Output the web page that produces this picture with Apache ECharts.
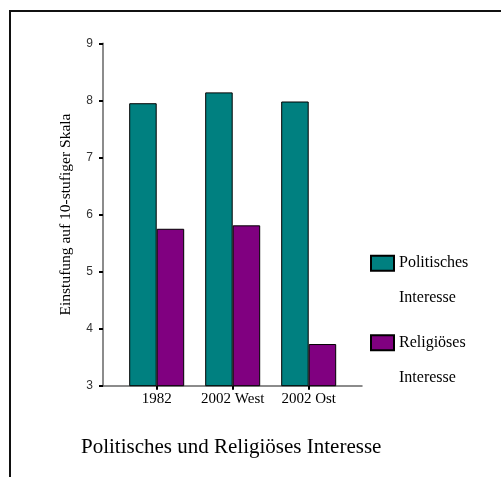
<!DOCTYPE html>
<html>
<head>
<meta charset="utf-8">
<script src="https://cdn.jsdelivr.net/npm/echarts@6/dist/echarts.min.js"></script>
<style>html,body{margin:0;padding:0;background:#fff;}#c{width:501px;height:477px;}</style>
</head>
<body>
<div id="c"></div>
<script>
var categories = ['1982', '2002 West', '2002 Ost'];
var politisches = [7.95, 8.14, 7.98];
var religioeses = [5.75, 5.81, 3.73];
var seriesNames = ['Politisches\nInteresse', 'Religiöses\nInteresse'];
var yTicks = [3, 4, 5, 6, 7, 8, 9];
var titleText = 'Politisches und Religiöses Interesse';
var yName = 'Einstufung auf 10-stufiger Skala';

var serif = '"Liberation Serif", "DejaVu Serif", serif';
var sans = '"Liberation Sans", Arial, sans-serif';
var chart = echarts.init(document.getElementById('c'), null, {renderer: 'canvas'});
var gTop = 43.3, gBottom = 91.3;
chart.setOption({
  backgroundColor: '#fff',
  animation: false,
  title: {
    text: titleText, left: 76, top: 432,
    textStyle: {fontFamily: serif, fontSize: 21, fontWeight: 'normal', color: '#000'}
  },
  legend: {
    orient: 'vertical', left: 370, top: 210.7, padding: 0,
    icon: 'rect', itemWidth: 23, itemHeight: 15, itemGap: -25.5,
    data: seriesNames,
    formatter: function (name) { return '\n' + name; },
    textStyle: {fontFamily: serif, fontSize: 16, lineHeight: 35, color: '#000'}
  },
  graphic: [{
    type: 'rect', shape: {x: 10, y: 11, width: 700, height: 700},
    style: {fill: 'none', stroke: '#111', lineWidth: 2}, silent: true
  }],
  grid: [
    {left: 103, right: 139, top: gTop, bottom: gBottom},
    {left: 118.7, width: 228, top: gTop, bottom: gBottom}
  ],
  xAxis: [
    {gridIndex: 0, type: 'category', data: [''], axisLine: {lineStyle: {color: '#666', width: 1.5}}, axisTick: {show: false}, axisLabel: {show: false}},
    {gridIndex: 1, type: 'category', data: categories, axisLine: {show: false},
     axisTick: {show: true, alignWithLabel: true, length: 4, lineStyle: {color: '#000', width: 2}},
     axisLabel: {margin: 6, interval: 0, hideOverlap: false, fontFamily: serif, fontSize: 15, color: '#000'}}
  ],
  yAxis: [
    {gridIndex: 0, type: 'value', min: yTicks[0], max: yTicks[yTicks.length - 1], interval: 1,
     name: yName, nameLocation: 'middle', nameGap: 29,
     nameTextStyle: {fontFamily: serif, fontSize: 15.5, color: '#000'},
     axisLine: {show: true, lineStyle: {color: '#666', width: 1.5}},
     axisTick: {show: true, length: 4, lineStyle: {color: '#000', width: 2}},
     axisLabel: {margin: 10, fontFamily: sans, fontSize: 12, color: '#333'},
     splitLine: {show: false}},
    {gridIndex: 1, type: 'value', min: yTicks[0], max: yTicks[yTicks.length - 1], interval: 1, show: false, splitLine: {show: false}}
  ],
  series: [
    {name: seriesNames[0], type: 'bar', xAxisIndex: 1, yAxisIndex: 1, data: politisches,
     barWidth: 27.5, barGap: '0%', itemStyle: {color: '#008080', borderColor: '#000', borderWidth: 1}},
    {name: seriesNames[1], type: 'bar', xAxisIndex: 1, yAxisIndex: 1, data: religioeses,
     barWidth: 27.5, barGap: '0%', itemStyle: {color: '#800080', borderColor: '#000', borderWidth: 1}}
  ]
});
</script>
</body>
</html>
